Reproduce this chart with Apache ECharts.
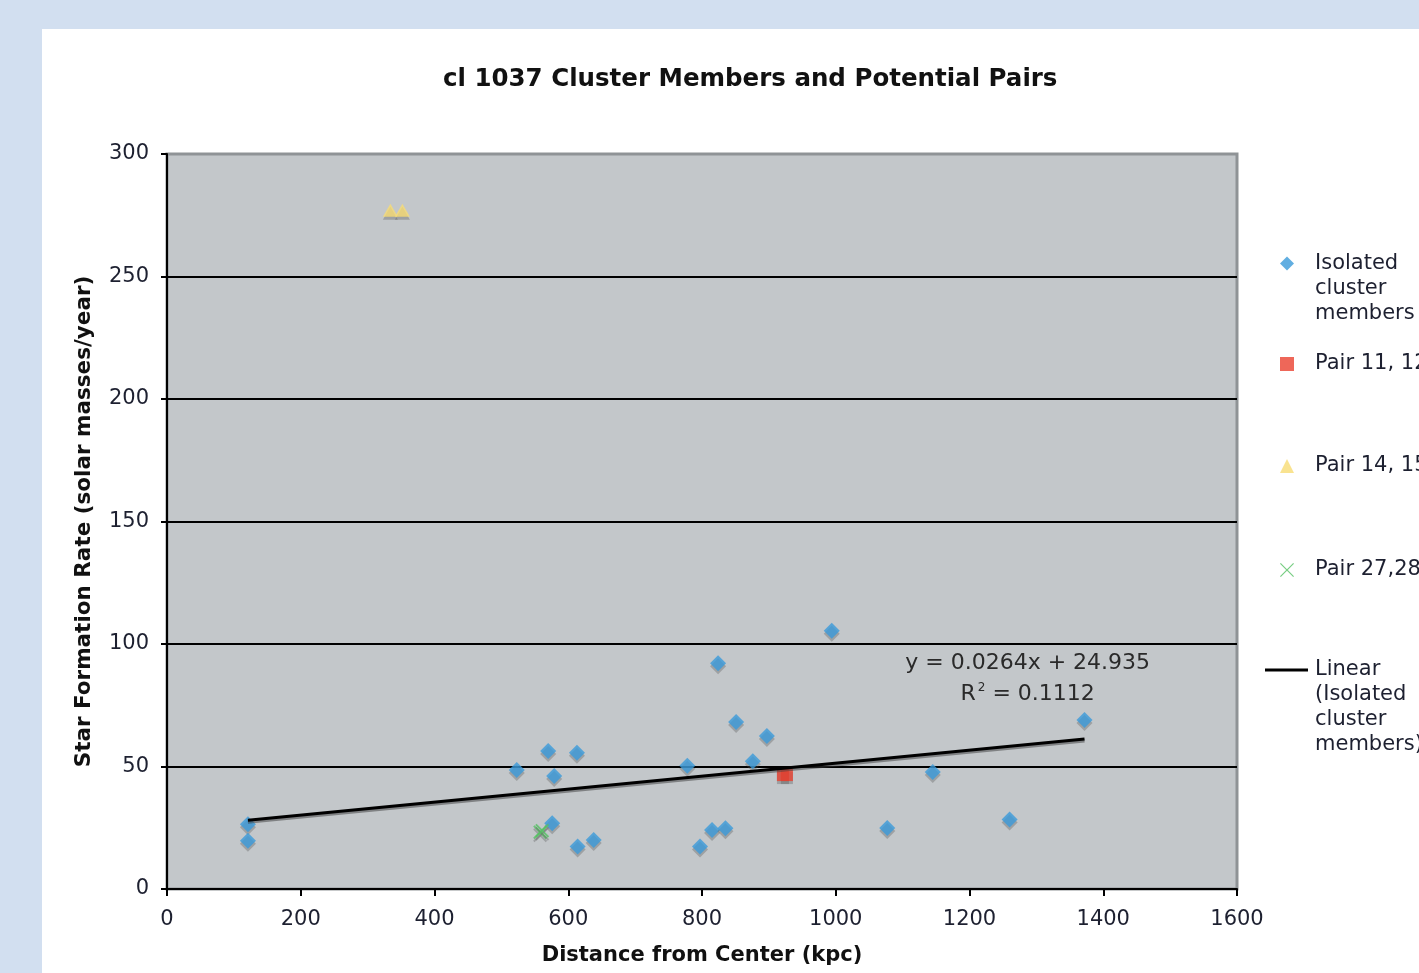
<!DOCTYPE html>
<html>
<head>
<meta charset="utf-8">
<script src="https://cdn.jsdelivr.net/npm/echarts@6/dist/echarts.min.js"></script>
<style>
  html, body { margin: 0; padding: 0; background: #d2dff0; width: 1419px; height: 973px; overflow: hidden; }
  #card { position: absolute; left: 42px; top: 29px; width: 1377px; height: 944px; background: #ffffff; }
  #chart { width: 1377px; height: 944px; }
</style>
</head>
<body>
<div id="card"><div id="chart"></div></div>
<script>
// ---- data ----
const seriesNames = ['Isolated cluster members', 'Pair 11, 12', 'Pair 14, 15', 'Pair 27,28', 'Linear (Isolated cluster members)'];
const legendLines = [['Isolated', 'cluster', 'members'], ['Pair 11, 12'], ['Pair 14, 15'], ['Pair 27,28'], ['Linear', '(Isolated', 'cluster', 'members)']];
const isolated = [
  [121, 26.4], [121, 19.7], [523, 48.6], [570, 56.3], [579, 46.1], [576, 26.8],
  [613, 55.6], [614, 17.3], [638, 20.0], [778, 50.3], [797, 17.3], [815, 24.1],
  [835, 24.8], [824, 92.1], [851, 68.2], [876, 52.1], [897, 62.4], [994, 105.4],
  [1077, 24.9], [1145, 47.8], [1260, 28.4], [1372, 69.0]
];
const pair11 = [[921, 46.5], [927, 46.5]];
const pair14 = [[334, 277], [352, 277]];
const pair27 = [[558, 23.2], [561, 23.8]];
const trend = [[121, 28.1], [1372, 61.2]];
const equationText = ['y = 0.0264x + 24.935', '0.1112'];
const equationAnchor = [1287, 86];
const xTicks = { min: 0, max: 1600, interval: 200 };
const yTicks = { min: 0, max: 300, interval: 50 };

// ---- style ----
const FONT = 'DejaVu Sans';
const TXT = '#1d2030';
const shadow = { shadowColor: 'rgba(80,80,80,0.4)', shadowBlur: 0, shadowOffsetX: 0, shadowOffsetY: 3 };
const xPath = 'path://M1,0L5,4L9,0L10,1L6,5L10,9L9,10L5,6L1,10L0,9L4,5L0,1Z';
const xPathThin = 'path://M0.6,0L5,4.4L9.4,0L10,0.6L5.6,5L10,9.4L9.4,10L5,5.6L0.6,10L0,9.4L4.4,5L0,0.6Z';

const chart = echarts.init(document.getElementById('chart'));

const legendTops = [172, 322.5, 424.5, 528.5, 553.5];
const legendIcons = ['diamond', 'rect', 'triangle', xPathThin, 'rect'];
const legends = seriesNames.map((name, i) => {
  const n = legendLines[i].length;
  const isLine = i === 4;
  const blank = new Array(n).join('\n');
  return {
    left: isLine ? 1223 : 1238,
    top: legendTops[i],
    padding: 0,
    orient: 'vertical',
    itemWidth: isLine ? 43 : 14,
    itemHeight: isLine ? 3 : 14,
    selectedMode: false,
    formatter: () => blank + legendLines[i].join('\n'),
    textStyle: {
      fontFamily: FONT, fontSize: 21, color: TXT, lineHeight: 25,
      padding: [0, 0, 0, isLine ? 2 : 16]
    },
    data: [{ name, icon: legendIcons[i], itemStyle: isLine ? { color: '#000' } : undefined }]
  };
});

chart.setOption({
  animation: false,
  title: {
    text: 'cl 1037 Cluster Members and Potential Pairs',
    left: 401,
    top: 38,
    padding: 0,
    textStyle: { fontFamily: FONT, fontSize: 24.5, fontWeight: 'bold', color: '#111' }
  },
  legend: legends,
  grid: {
    left: 125, top: 125, width: 1070, height: 735,
    outerBoundsMode: 'none', containLabel: false,
    show: true, backgroundColor: '#c3c7ca', borderColor: '#8f9396', borderWidth: 3
  },
  xAxis: {
    type: 'value', min: xTicks.min, max: xTicks.max, interval: xTicks.interval,
    name: 'Distance from Center (kpc)', nameLocation: 'middle', nameGap: 56,
    nameTextStyle: { fontFamily: FONT, fontSize: 21, fontWeight: 'bold', color: '#111' },
    axisLine: { show: true, onZero: false, lineStyle: { color: '#000', width: 2 } },
    axisTick: { show: true, length: 7, lineStyle: { color: '#000', width: 2 } },
    axisLabel: { fontFamily: FONT, fontSize: 21, color: TXT, margin: 20, formatter: v => String(v) },
    splitLine: { show: false }
  },
  yAxis: {
    type: 'value', min: yTicks.min, max: yTicks.max, interval: yTicks.interval,
    name: 'Star Formation Rate (solar masses/year)', nameLocation: 'middle', nameGap: 72,
    nameTextStyle: { fontFamily: FONT, fontSize: 21.5, fontWeight: 'bold', color: '#111' },
    axisLine: { show: true, onZero: false, lineStyle: { color: '#000', width: 2 } },
    axisTick: { show: true, length: 6, lineStyle: { color: '#000', width: 2 } },
    axisLabel: { fontFamily: FONT, fontSize: 21, color: TXT, margin: 18, formatter: v => String(v) },
    splitLine: { show: true, lineStyle: { color: ['#000', '#000', '#000', '#000', '#000', '#000', 'rgba(0,0,0,0)'], width: 2 } }
  },
  series: [
    {
      name: seriesNames[0], type: 'scatter', data: isolated, symbol: 'diamond', symbolSize: 16,
      itemStyle: Object.assign({ color: '#3a9ad9' }, shadow), z: 3
    },
    {
      name: seriesNames[1], type: 'scatter', data: pair11, symbol: 'rect', symbolSize: 12,
      itemStyle: Object.assign({ color: '#ea4130' }, shadow), z: 3
    },
    {
      name: seriesNames[2], type: 'scatter', data: pair14, symbol: 'triangle', symbolSize: [15, 13],
      itemStyle: Object.assign({ color: '#f7dc74' }, shadow), z: 3
    },
    {
      name: seriesNames[3], type: 'scatter', data: pair27, symbol: xPath, symbolSize: 14,
      itemStyle: Object.assign({ color: '#55c063' }, shadow), z: 3
    },
    {
      name: seriesNames[4], type: 'line', data: trend, symbol: 'none', showSymbol: false,
      lineStyle: { color: '#000', width: 3, shadowColor: 'rgba(60,60,60,0.5)', shadowOffsetY: 2 },
      itemStyle: { color: '#000' }, z: 4,
      markPoint: {
        symbol: 'circle', symbolSize: 0,
        data: [{ coord: equationAnchor }],
        label: {
          show: true, position: 'inside', align: 'center', verticalAlign: 'middle',
          formatter: '{a|' + equationText[0] + '}\n{a|R}{sup|2}{a| = ' + equationText[1] + '}',
          rich: {
            a: { fontFamily: FONT, fontSize: 22, color: '#2a2a2a', lineHeight: 31 },
            sup: { fontFamily: FONT, fontSize: 12, color: '#2a2a2a', lineHeight: 31, padding: [0, 0, 12, 2] }
          }
        }
      }
    }
  ]
});
</script>
</body>
</html>
